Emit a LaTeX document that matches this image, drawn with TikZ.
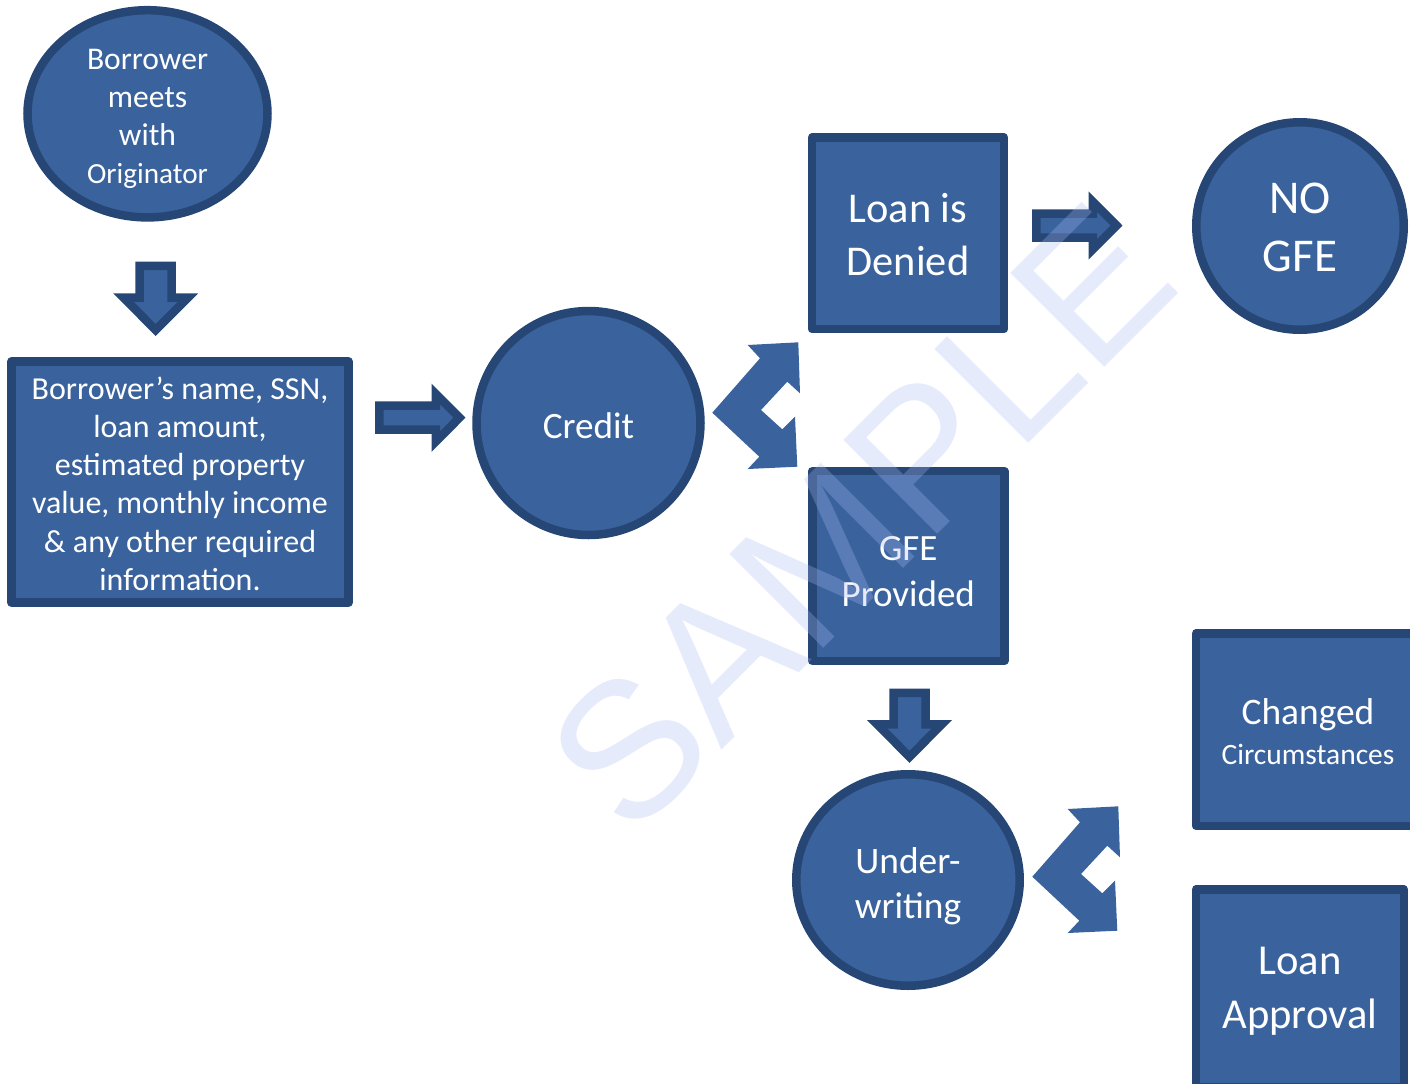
\documentclass[tikz,border=0pt]{standalone}
\usepackage{fontspec}
\setmainfont{Carlito}
\newfontfamily\wmfont{Liberation Sans}
\usetikzlibrary{shapes.geometric}
\definecolor{shapefill}{RGB}{58,99,157}
\definecolor{shapeline}{RGB}{38,70,117}
\definecolor{wmcol}{RGB}{169,186,245}
\tikzset{
  shapebase/.style={fill=shapefill, draw=shapeline, line width=4.25pt,
    inner sep=0pt, outer sep=0pt},
  ovalshape/.style={shapebase, ellipse},
  boxshape/.style={shapebase, rectangle, line join=round},
  label text/.style={text=white, align=center, inner sep=0pt, text depth=0pt},
  blockarrow/.style={fill=shapefill, draw=shapeline, line width=4.25pt, line join=miter},
  rightarr/.pic={\path[blockarrow] (4.25,-12) -- (60.75,-12) -- (60.75,-23.9) -- (84.5,0)
      -- (60.75,23.9) -- (60.75,12) -- (4.25,12) -- cycle;},
  downarr/.pic={\path[blockarrow] (-16,4.25) -- (-16,35.85) -- (-32.3,35.85) -- (0,68.3)
      -- (32.3,35.85) -- (16,35.85) -- (16,4.25) -- cycle;},
  splitarr/.pic={\fill[shapefill] (35.7,2) -- (86.3,-0.7) -- (88,50.3) -- (75.3,38.7)
      -- (49,67) -- (70.3,86.3) -- (83,73.7) -- (85.3,123.7) -- (35.7,126)
      -- (47.3,113.7) -- (0.3,69.7) -- (48,15.3) -- cycle;},
  wmark/.style={font=\wmfont\fontsize{96.5}{96.5}\selectfont, text=wmcol, opacity=0.29}
}
\begin{document}
\begin{tikzpicture}[x=0.5pt,y=-0.5pt]
\useasboundingbox (0,0) rectangle (1410,1083);
\clip (0,0) rectangle (1410,1083);

% shapes
\node[ovalshape, minimum width=120pt, minimum height=103.6pt] (meet) at (147.5,113.8) {};
\node[boxshape, minimum width=168.5pt, minimum height=120.5pt] (info) at (180,482) {};
\node[ovalshape, minimum width=112pt, minimum height=112pt] (credit) at (588.5,423) {};
\node[boxshape, minimum width=96pt, minimum height=95.75pt] (deny) at (908,233.25) {};
\node[ovalshape, minimum width=103.75pt, minimum height=103.75pt] (nogfe) at (1300,226) {};
\node[boxshape, minimum width=96pt, minimum height=95pt] (gfe) at (908.25,566) {};
\node[ovalshape, minimum width=111.75pt, minimum height=105.75pt] (uw) at (908,880) {};
\node[boxshape, minimum width=111.9pt, minimum height=96.25pt] (chg) at (1308,729.5) {};
\node[boxshape, minimum width=103.9pt, minimum height=98.75pt] (appr) at (1299.9,988) {};

% texts
\node[label text, font=\fontsize{15.8}{19}\selectfont] (meet-t) at ([yshift=-1.5pt]meet.center)
  {Borrower\\meets\\with\\{\fontsize{14.6}{19}\selectfont Originator}};
\node[label text, font=\fontsize{16}{19.1}\selectfont] (info-t) at ([yshift=-0.75pt]info.center)
  {Borrower’s name, SSN,\\loan amount,\\estimated property\\value, monthly income\\\& any other required\\information.};
\node[label text, font=\fontsize{18.6}{22}\selectfont] (credit-t) at ([yshift=-1.5pt]credit.center) {Credit};
\node[label text, font=\fontsize{21.2}{26.5}\selectfont] (deny-t) at ([yshift=-0.5pt]deny.center) {Loan is\\Denied};
\node[label text, font=\fontsize{23.5}{29}\selectfont] (nogfe-t) at ([yshift=-0.5pt]nogfe.center) {NO\\GFE};
\node[label text, font=\fontsize{18.5}{23}\selectfont] (gfe-t) at ([yshift=-2.5pt]gfe.center) {GFE\\Provided};
\node[label text, font=\fontsize{18.7}{22.5}\selectfont] (uw-t) at ([yshift=-1.5pt]uw.center) {Under-\\writing};
\node[label text, font=\fontsize{18.7}{20}\selectfont] (chg-t) at ([yshift=-1pt]chg.center)
  {Changed\\{\fontsize{14.75}{17}\selectfont Circumstances}};
\node[label text, font=\fontsize{21.3}{26.8}\selectfont] (appr-t) at (appr.center) {Loan\\Approval};

% block arrows
\pic (a1) at (155.7,261.7) {downarr};
\pic (a2) at (375,417.7) {rightarr};
\pic (a3) at (712,343) {splitarr};
\pic (a4) at (1032,225.5) {rightarr};
\pic (a5) at (909.5,688.5) {downarr};
\pic (a6) at (1032,807) {splitarr};

% watermark
\node[wmark, rotate=45] (wm) at (860.6,517.5) {SAMPLE};
\end{tikzpicture}
\end{document}
